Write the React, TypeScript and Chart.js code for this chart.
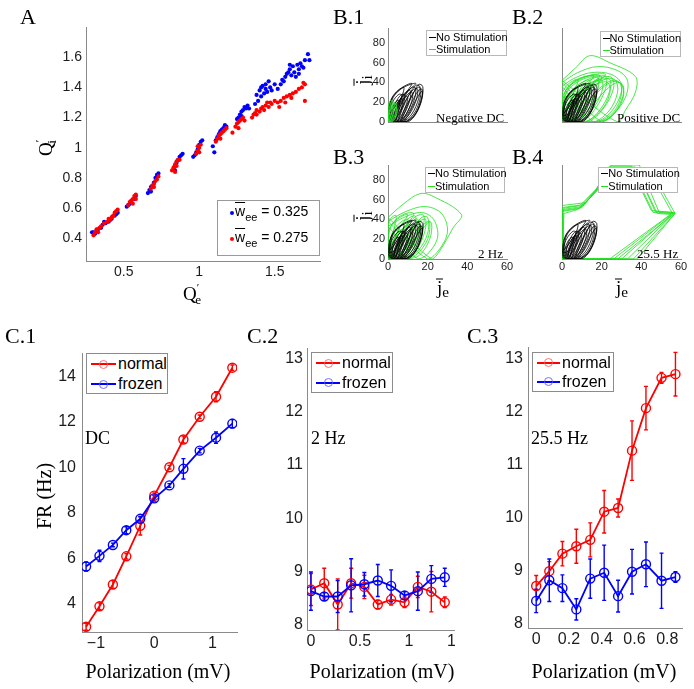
import React, { useEffect, useRef } from "react";
import { Chart, registerables } from "chart.js";

Chart.register(...registerables);

const SANS = '"Liberation Sans", Arial, Helvetica, sans-serif';
const SERIF = '"Liberation Serif", "Times New Roman", serif';
const AXIS_COLOR = "#8a8a8a";
const TICK_COLOR = "#1c1c1c";
const RED = "#ff0000";
const BLUE = "#0000ff";
const GREEN = "#1ee01e";
const BLACK = "#000000";

// ---------------- Panel A ----------------
const aTicksX = [0.5, 1, 1.5];
const aTicksY = [0.4, 0.6, 0.8, 1, 1.2, 1.4, 1.6];
const aLegend = ["0.325", "0.275"];
const aBlue: number[][] = [
  [0.30, 0.44], [0.31, 0.43], [0.32, 0.45], [0.33, 0.46], [0.35, 0.47], [0.36, 0.49], [0.38, 0.50], [0.40, 0.51], [0.42, 0.53], [0.44, 0.55], [0.45, 0.56], [0.46, 0.57], [0.29, 0.44], [0.37, 0.51],
  [0.52, 0.61], [0.53, 0.62], [0.54, 0.63], [0.55, 0.64], [0.57, 0.66], [0.58, 0.68],
  [0.66, 0.70], [0.67, 0.72], [0.68, 0.74], [0.69, 0.75], [0.70, 0.77], [0.71, 0.80], [0.72, 0.82], [0.73, 0.83], [0.68, 0.71],
  [0.83, 0.86], [0.84, 0.88], [0.85, 0.90], [0.86, 0.92], [0.87, 0.94], [0.88, 0.95], [0.89, 0.96], [0.84, 0.85],
  [0.96, 0.94], [0.97, 0.95], [0.98, 0.97], [0.99, 0.99], [1.00, 1.02], [1.01, 1.04], [1.02, 1.05],
  [1.09, 1.01], [1.10, 0.97],
  [1.11, 1.05], [1.12, 1.07], [1.13, 1.09], [1.14, 1.11], [1.15, 1.12], [1.16, 1.13], [1.17, 1.15], [1.18, 1.14],
  [1.25, 1.19], [1.26, 1.20], [1.27, 1.22], [1.28, 1.24], [1.29, 1.25], [1.30, 1.27], [1.31, 1.26], [1.32, 1.28], [1.33, 1.26], [1.28, 1.21],
  [1.37, 1.29], [1.38, 1.35], [1.39, 1.31], [1.40, 1.38], [1.41, 1.34], [1.42, 1.41], [1.43, 1.36], [1.44, 1.39], [1.45, 1.37], [1.46, 1.44], [1.47, 1.40], [1.48, 1.38], [1.50, 1.42], [1.41, 1.40], [1.44, 1.42],
  [1.52, 1.39], [1.54, 1.42], [1.55, 1.45], [1.56, 1.44], [1.57, 1.47], [1.58, 1.49], [1.59, 1.50], [1.60, 1.52], [1.61, 1.48], [1.62, 1.54], [1.63, 1.50], [1.64, 1.47], [1.65, 1.55], [1.66, 1.52], [1.67, 1.56], [1.68, 1.54], [1.69, 1.53], [1.70, 1.58], [1.72, 1.62], [1.73, 1.58], [1.60, 1.55], [1.66, 1.49],
];
const aRed: number[][] = [
  [0.30, 0.42], [0.31, 0.44], [0.32, 0.46], [0.34, 0.47], [0.35, 0.48], [0.37, 0.50], [0.39, 0.51], [0.41, 0.52], [0.42, 0.54], [0.43, 0.55], [0.44, 0.57], [0.45, 0.58], [0.46, 0.59], [0.33, 0.44], [0.40, 0.53],
  [0.53, 0.62], [0.54, 0.64], [0.55, 0.65], [0.56, 0.66], [0.57, 0.68], [0.58, 0.69], [0.56, 0.63], [0.58, 0.66],
  [0.68, 0.73], [0.69, 0.75], [0.70, 0.76], [0.71, 0.78], [0.72, 0.79], [0.73, 0.81], [0.70, 0.74],
  [0.82, 0.85], [0.83, 0.87], [0.84, 0.89], [0.85, 0.91], [0.86, 0.92], [0.87, 0.92], [0.84, 0.84], [0.85, 0.88],
  [0.98, 0.96], [0.99, 0.98], [1.00, 1.00], [1.00, 0.97], [1.01, 1.02], [0.99, 1.01],
  [1.11, 1.04], [1.12, 1.06], [1.13, 1.08], [1.14, 1.09], [1.15, 1.10], [1.16, 1.11], [1.17, 1.12], [1.18, 1.13], [1.14, 1.06], [1.22, 1.10],
  [1.24, 1.14], [1.25, 1.16], [1.26, 1.17], [1.27, 1.18], [1.28, 1.19], [1.29, 1.20], [1.26, 1.13], [1.30, 1.18],
  [1.35, 1.20], [1.36, 1.22], [1.37, 1.23], [1.38, 1.22], [1.40, 1.24], [1.41, 1.26], [1.42, 1.27], [1.44, 1.28], [1.45, 1.30], [1.47, 1.30], [1.48, 1.29], [1.50, 1.31], [1.38, 1.25], [1.43, 1.25], [1.46, 1.27],
  [1.52, 1.30], [1.54, 1.31], [1.56, 1.33], [1.58, 1.34], [1.60, 1.35], [1.62, 1.36], [1.64, 1.37], [1.66, 1.39], [1.68, 1.40], [1.70, 1.42], [1.69, 1.43], [1.53, 1.27], [1.57, 1.30], [1.61, 1.33], [1.70, 1.31],
];

// ---------------- Panels B ----------------
const bTicksY = [0, 20, 40, 60, 80];
const bTicksX = [0, 20, 40, 60];
const bNoStim: number[][][] = [
  [[1, 2], [1.5, 10], [3, 18], [5, 22], [6, 20], [5, 12], [3, 4], [2, 1]],
  [[2, 1], [2.5, 12], [4.5, 22], [7, 28], [8.5, 27], [7.5, 17], [5, 6], [3, 0.5]],
  [[3, 0.5], [4, 12], [6.5, 24], [10, 32], [11.5, 31], [10.5, 19], [7.5, 6], [4.5, 0]],
  [[4, 0], [5.5, 12], [8.5, 26], [12, 35], [14, 34], [13, 21], [9.5, 7], [6, 0]],
  [[5, 0], [7, 12], [10.5, 27], [14, 37], [16, 36], [15.5, 24], [12, 8], [7.5, 0]],
  [[6.5, 0], [9, 13], [12.5, 28], [15.5, 38], [17.5, 36], [17, 25], [14, 9], [9.5, 0.5]],
  [[0.5, 3], [0.5, 14], [2, 24], [5, 31], [8, 35], [7, 26], [4, 14], [2, 4]],
  [[0.5, 6], [1, 19], [3.5, 29], [8, 36], [12, 39], [10, 32], [6, 20], [3, 8]],
  [[8, 0], [11, 10], [14, 22], [17, 31], [17.5, 28], [16, 16], [13, 5], [10, 0]],
  [[2.5, 0], [3.5, 8], [6, 18], [9, 26], [10, 24], [8.5, 14], [6, 4], [4, 0]],
  [[1.5, 1], [2, 9], [4, 17], [6.5, 24], [7.5, 22], [6.5, 13], [4, 4], [2.5, 0]],
  [[3.5, 0], [5, 10], [7.5, 21], [11, 30], [12.5, 29], [11.5, 18], [8.5, 6], [5, 0]],
  [[4.5, 0], [6.5, 11], [9.5, 24], [13, 33], [15, 33], [14, 21], [10.5, 7], [6.5, 0]],
  [[6, 0], [8, 11], [11.5, 25], [15, 35], [16.5, 34], [16, 22], [13, 8], [8.5, 0]],
  [[0.5, 1], [0.8, 12], [2.5, 21], [5.5, 28], [7, 27], [5.5, 17], [3, 6], [1.5, 1]],
  [[7, 0], [10, 11], [13, 24], [16, 33], [17.5, 32], [16.5, 20], [13.5, 7], [9, 0]],
  [[1, 9], [2, 22], [5, 31], [10, 37], [14, 39], [11, 33], [7, 25], [3, 14]],
];
const bNegDC: number[][][] = [
  [[0, 1], [0.3, 10], [1, 17], [2, 21], [3, 20], [3, 12], [2, 4], [1, 0]],
  [[0.2, 0], [0.8, 9], [2, 16], [3.5, 19], [4.3, 16], [3.8, 8], [2.5, 2], [1.2, 0]],
  [[0, 3], [0, 13], [0.6, 20], [1.5, 22], [2.2, 18], [1.8, 10], [1, 3]],
  [[0.5, 0], [1.5, 7], [3, 13], [4.5, 14], [4.5, 9], [3.5, 3], [2, 0]],
  [[0, 0], [0.2, 6], [1, 12], [2.2, 15], [2.8, 11], [2, 5], [1, 1]],
  [[0.3, 2], [1, 14], [2.5, 19], [4, 18], [4, 11], [2.8, 4], [1.5, 1]],
];
const bPosDC: number[][][] = [
  [[0, 42], [7, 55], [14, 67], [24, 60], [37, 46], [37, 30], [32, 12], [28, 0]],
  [[0, 40], [8, 50], [18, 56], [28, 52], [33, 42], [32, 25], [26, 8], [20, 0]],
  [[0, 36], [6, 44], [15, 50], [25, 48], [30, 38], [28, 20], [22, 5], [16, 0]],
  [[0, 3], [2, 20], [5, 32], [10, 40], [14, 42], [14, 30], [10, 12], [5, 1]],
  [[1, 2], [4, 22], [8, 36], [14, 44], [18, 45], [18, 32], [13, 12], [7, 0]],
  [[2, 1], [6, 22], [11, 38], [17, 45], [22, 46], [22, 34], [17, 14], [10, 0]],
  [[3, 0], [8, 22], [14, 38], [20, 45], [25, 45], [26, 34], [21, 14], [13, 0]],
  [[4, 0], [10, 20], [16, 36], [23, 44], [27, 42], [28, 30], [24, 12], [16, 0]],
  [[0, 6], [1, 24], [4, 36], [9, 44], [16, 47], [12, 36], [6, 18], [2, 4]],
  [[0, 10], [0, 28], [3, 38], [8, 43], [6, 30], [3, 15], [1, 8]],
  [[5, 0], [12, 18], [19, 34], [25, 42], [29, 40], [30, 28], [26, 10], [18, 0]],
  [[0, 2], [3, 16], [8, 30], [15, 40], [20, 42], [20, 30], [15, 12], [8, 0]],
  [[1, 0], [5, 14], [10, 28], [17, 38], [23, 40], [24, 28], [19, 10], [11, 0]],
  [[0, 20], [2, 32], [6, 41], [12, 46], [19, 47], [15, 38], [8, 26], [3, 18]],
  [[0, 0], [1, 14], [4, 27], [9, 36], [13, 37], [12, 25], [8, 10], [3, 0]],
  [[2, 0], [7, 18], [12, 33], [18, 42], [24, 43], [24, 31], [19, 12], [12, 0]],
  [[6, 0], [13, 18], [20, 34], [26, 41], [30, 38], [31, 26], [27, 10], [20, 0]],
  [[0, 14], [2, 28], [6, 38], [13, 45], [20, 46], [17, 36], [10, 24], [4, 14]],
  [[0, 25], [3, 35], [9, 43], [16, 48], [22, 48], [17, 40], [10, 32], [4, 26]],
  [[8, 0], [15, 16], [22, 32], [28, 40], [31, 36], [30, 22], [25, 6], [18, 0]],
];
const b2Hz: number[][][] = [
  [[0, 42], [8, 56], [16, 66], [22, 64], [37, 45], [33, 32], [26, 8], [22, 0]],
  [[0, 38], [9, 48], [19, 53], [27, 46], [30, 28], [26, 10], [20, 0]],
  [[0, 33], [8, 42], [17, 47], [23, 40], [25, 22], [20, 5], [15, 0]],
  [[0, 2], [1, 18], [3, 30], [7, 38], [10, 40], [9, 28], [5, 10], [2, 0]],
  [[1, 1], [3, 18], [6, 32], [11, 42], [14, 43], [13, 28], [8, 8], [4, 0]],
  [[2, 0], [5, 16], [9, 32], [14, 43], [18, 44], [17, 28], [12, 8], [6, 0]],
  [[3, 0], [7, 14], [12, 30], [17, 42], [20, 42], [20, 26], [15, 8], [8, 0]],
  [[0, 5], [0, 25], [2, 35], [6, 42], [10, 45], [6, 32], [2, 15]],
  [[4, 0], [9, 10], [14, 22], [19, 34], [21, 38], [20, 20], [14, 4], [8, 0]],
  [[0, 8], [0, 30], [1, 40], [4, 44], [3, 30], [1, 15]],
  [[0, 0], [2, 12], [5, 24], [9, 33], [12, 34], [11, 22], [7, 8], [3, 0]],
  [[1, 0], [4, 10], [8, 22], [13, 35], [16, 38], [15, 24], [10, 6], [5, 0]],
  [[0, 3], [2, 16], [6, 28], [11, 37], [15, 40], [15, 26], [10, 8], [4, 0]],
  [[5, 0], [10, 14], [15, 28], [20, 38], [22, 36], [21, 20], [16, 4], [10, 0]],
  [[0, 15], [1, 30], [4, 40], [9, 46], [13, 46], [10, 36], [5, 24], [1, 14]],
  [[2, 0], [6, 12], [11, 26], [16, 38], [19, 40], [18, 24], [13, 6], [6, 0]],
];
const b25Hz: number[][][] = [
  [[0, 0], [0, 48], [9, 51], [18, 70], [24, 92], [36, 92], [41, 68], [46, 47], [56, 46], [30, 0], [0, 0]],
  [[0.5, 0], [0.5, 50], [10, 53], [19, 72], [25, 93], [37, 93], [42, 70], [47, 48], [57, 47], [33, 0], [0.5, 0]],
  [[1, 0], [0, 52], [11, 55], [17, 69], [23, 90], [38, 90], [43, 67], [48, 46], [55, 45], [26, 0], [1, 0]],
  [[0, 0], [1, 46], [8, 50], [18, 72], [24, 94], [35, 94], [40, 70], [45, 49], [56, 47], [24, 0], [0, 0]],
  [[0.5, 0], [0, 54], [12, 57], [19, 74], [25, 95], [39, 95], [44, 71], [49, 47], [57, 46], [36, 0], [0.5, 0]],
  [[0, 0], [0.5, 49], [10, 52], [18, 71], [24, 91], [44, 91], [49, 70], [56, 45], [28, 0], [0, 0]],
  [[0, 0], [0, 51], [9, 54], [17, 70], [24, 92], [46, 92], [50, 71], [57, 46], [38, 0], [0, 0]],
];

// ---------------- Panels C ----------------
const cLegend = ["normal", "frozen"];
const c1Ticks = [-1, 0, 1];
const c1TicksY = [4, 6, 8, 10, 12, 14];
const c1X = [-1.17, -0.94, -0.71, -0.48, -0.24, 0, 0.26, 0.5, 0.78, 1.06, 1.34];
const c1Normal = [2.98, 3.88, 4.84, 6.08, 7.42, 8.75, 10.0, 11.22, 12.22, 13.1, 14.38];
const c1NormalErr = [0.15, 0.15, 0.17, 0.12, 0.4, 0.12, 0.08, 0.15, 0.08, 0.22, 0.12];
const c1Frozen = [5.63, 6.1, 6.58, 7.23, 7.73, 8.63, 9.2, 9.93, 10.73, 11.3, 11.92];
const c1FrozenErr = [0.2, 0.25, 0.08, 0.15, 0.1, 0.12, 0.08, 0.45, 0.1, 0.25, 0.18];

const c2Ticks = [0, 0.5, 1, 1.5];
const c2TicksY = [8, 9, 10, 11, 12, 13];
const c2X = [0, 0.136, 0.273, 0.41, 0.545, 0.682, 0.818, 0.955, 1.09, 1.228, 1.365];
const c2Normal = [8.66, 8.78, 8.38, 8.78, 8.71, 8.38, 8.47, 8.42, 8.71, 8.62, 8.42];
const c2NormalErr = [0.3, 0.28, 0.48, 0.28, 0.22, 0.08, 0.1, 0.1, 0.2, 0.38, 0.1];
const c2Frozen = [8.63, 8.53, 8.53, 8.74, 8.76, 8.83, 8.73, 8.55, 8.63, 8.86, 8.89];
const c2FrozenErr = [0.36, 0.07, 0.3, 0.5, 0.22, 0.3, 0.3, 0.07, 0.36, 0.25, 0.17];

const c3Ticks = [0, 0.2, 0.4, 0.6, 0.8];
const c3TicksY = [8, 9, 10, 11, 12, 13];
const c3X = [0, 0.08, 0.16, 0.245, 0.33, 0.415, 0.5, 0.585, 0.67, 0.765, 0.85];
const c3Normal = [8.71, 8.99, 9.32, 9.46, 9.58, 10.11, 10.18, 11.26, 12.06, 12.63, 12.7];
const c3NormalErr = [0.2, 0.18, 0.23, 0.32, 0.32, 0.4, 0.17, 0.56, 0.41, 0.1, 0.41];
const c3Frozen = [8.43, 8.82, 8.67, 8.27, 8.85, 8.96, 8.52, 8.98, 9.12, 8.81, 8.88];
const c3FrozenErr = [0.22, 0.4, 0.25, 0.2, 0.37, 0.52, 0.3, 0.42, 0.42, 0.52, 0.1];

// ---------------- helpers ----------------
function fmtTick(v: number) {
  const r = Math.round(v * 1000) / 1000;
  return r < 0 ? "\u2212" + String(-r) : String(r);
}

function axis(min: number, max: number, ticks: number[] | null, size: number, padding: number, fit: (s: any) => void) {
  const a: any = {
    type: "linear",
    min,
    max,
    grid: { display: false, drawTicks: false },
    border: { display: true, color: AXIS_COLOR, width: 1 },
    ticks: ticks
      ? { display: true, autoSkip: false, maxRotation: 0, color: TICK_COLOR, padding, font: { family: SANS, size }, callback: (v: number) => fmtTick(v) }
      : { display: false },
    afterFit: fit,
  };
  if (ticks) a.afterBuildTicks = (s: any) => { s.ticks = ticks.map((value) => ({ value })); };
  return a;
}

const baseOptions = () => ({
  animation: false,
  responsive: false,
  maintainAspectRatio: false,
  events: [],
  plugins: { legend: { display: false }, tooltip: { enabled: false } },
});

const errorBars = {
  id: "errorBars",
  beforeDatasetsDraw(chart: any) {
    const { ctx, chartArea, scales } = chart;
    ctx.save();
    ctx.beginPath();
    ctx.rect(chartArea.left, chartArea.top, chartArea.right - chartArea.left, chartArea.bottom - chartArea.top);
    ctx.clip();
    chart.data.datasets.forEach((ds: any, i: number) => {
      if (!ds.errors) return;
      const meta = chart.getDatasetMeta(i);
      ctx.strokeStyle = ds.borderColor;
      ctx.lineWidth = 1.4;
      meta.data.forEach((pt: any, j: number) => {
        const v = ds.data[j].y;
        const e = ds.errors[j];
        const x = pt.x;
        const yLo = scales.y.getPixelForValue(v - e);
        const yHi = scales.y.getPixelForValue(v + e);
        ctx.beginPath();
        ctx.moveTo(x, yLo);
        ctx.lineTo(x, yHi);
        ctx.moveTo(x - 2, yLo);
        ctx.lineTo(x + 2, yLo);
        ctx.moveTo(x - 2, yHi);
        ctx.lineTo(x + 2, yHi);
        ctx.stroke();
      });
    });
    ctx.restore();
  },
};

function loopSets(list: number[][][], color: string, width: number, tension: number, order: number, close: boolean) {
  return list.map((pts) => {
    const all = close ? [...pts, pts[0]] : pts;
    return {
      data: all.map(([x, y]) => ({ x, y })),
      borderColor: color,
      borderWidth: width,
      pointRadius: 0,
      tension,
      fill: false,
      order,
    };
  });
}

function seriesSet(label: string, xs: number[], ys: number[], errs: number[], color: string, order: number) {
  return {
    label,
    data: xs.map((x, i) => ({ x, y: ys[i] })),
    errors: errs,
    borderColor: color,
    backgroundColor: color,
    borderWidth: 1.8,
    pointRadius: 4.5,
    pointBorderWidth: 1.4,
    pointBorderColor: color,
    pointBackgroundColor: "rgba(0,0,0,0)",
    tension: 0,
    fill: false,
    order,
  };
}

type Pad = { l: number; t: number; r: number; b: number };
type PanelProps = { box: number[]; yw: number; xh: number; pad: Pad; build: (yw: number, xh: number) => any; bg?: string };

function ChartPanel({ box, yw, xh, pad, build, bg }: PanelProps) {
  const ref = useRef<HTMLCanvasElement | null>(null);
  const [L, T, R, B] = box;
  const left = L - pad.l - yw;
  const top = T - pad.t;
  const width = R - left + pad.r;
  const height = B - top + xh + pad.b;
  useEffect(() => {
    if (!ref.current) return;
    const cfg = build(yw, xh);
    cfg.options.layout = { padding: { left: pad.l, top: pad.t, right: pad.r, bottom: pad.b } };
    const chart = new Chart(ref.current, cfg);
    return () => chart.destroy();
  }, []);
  return (
    <canvas
      ref={ref}
      width={width}
      height={height}
      style={{ position: "absolute", left, top, width, height, background: bg || "transparent" }}
    />
  );
}

// ---------------- chart builders ----------------
const buildA = (yw: number, xh: number) => ({
  type: "scatter",
  data: {
    datasets: [
      { label: "w_ee = 0.325", data: aBlue.map(([x, y]) => ({ x, y })), pointRadius: 2.1, pointBorderWidth: 0, pointBackgroundColor: BLUE, borderColor: BLUE, order: 2 },
      { label: "w_ee = 0.275", data: aRed.map(([x, y]) => ({ x, y })), pointRadius: 2.1, pointBorderWidth: 0, pointBackgroundColor: RED, borderColor: RED, order: 1 },
    ],
  },
  options: {
    ...baseOptions(),
    scales: {
      x: axis(0.25, 1.8, aTicksX, 14, 3, (s: any) => { s.height = xh; }),
      y: axis(0.25, 1.8, aTicksY, 14, 4, (s: any) => { s.width = yw; }),
    },
  },
});

function buildB(green: number[][][], greenTension: number, greenOnTop: boolean, showY: boolean, showX: boolean) {
  return (yw: number, xh: number) => ({
    type: "line",
    data: {
      datasets: [
        ...loopSets(bNoStim, BLACK, 0.8, 0.35, greenOnTop ? 2 : 0, true),
        ...loopSets(green, GREEN, 0.8, greenTension, 1, greenTension > 0),
      ],
    },
    options: {
      ...baseOptions(),
      scales: {
        x: axis(0, 60, showX ? bTicksX : null, 11, 1, (s: any) => { s.height = xh; }),
        y: axis(0, 95, showY ? bTicksY : null, 11, 3, (s: any) => { s.width = yw; }),
      },
    },
  });
}

function buildC(xs: number[], n: number[], ne: number[], f: number[], fe: number[], xr: number[], xt: number[], yr: number[], yt: number[], yPad: number) {
  return (yw: number, xh: number) => ({
    type: "line",
    data: {
      datasets: [
        seriesSet(cLegend[0], xs, n, ne, RED, 1),
        seriesSet(cLegend[1], xs, f, fe, BLUE, 0),
      ],
    },
    options: {
      ...baseOptions(),
      scales: {
        x: axis(xr[0], xr[1], xt, 16, 2, (s: any) => { s.height = xh; }),
        y: axis(yr[0], yr[1], yt, 16, yPad, (s: any) => { s.width = yw; }),
      },
    },
    plugins: [errorBars],
  });
}

// ---------------- overlays ----------------
type TxtProps = { x: number; y: number; size: number; serif?: boolean; center?: boolean; rotate?: boolean; children: any };
function Txt({ x, y, size, serif = true, center = false, rotate = false, children }: TxtProps) {
  const style: any = {
    position: "absolute",
    left: x,
    top: y,
    fontSize: size,
    lineHeight: 1,
    fontFamily: serif ? SERIF : SANS,
    whiteSpace: "nowrap",
    color: "#000",
  };
  if (center || rotate) style.transform = `translate(-50%,-50%)${rotate ? " rotate(-90deg)" : ""}`;
  return <div style={style}>{children}</div>;
}

function PrimeSub({ base, sub }: { base: string; sub: string }) {
  return (
    <span>
      {base}
      <span style={{ fontSize: "0.6em", verticalAlign: "0.75em", lineHeight: 0 }}>′</span>
      <span style={{ fontSize: "0.7em", verticalAlign: "-0.3em", lineHeight: 0, marginLeft: "-0.3em" }}>{sub}</span>
    </span>
  );
}

function BarSub({ base, sub }: { base: string; sub: string }) {
  return (
    <span>
      <span style={{ position: "relative", display: "inline-block" }}>
        {base}
        <span style={{ position: "absolute", left: "-0.05em", right: "-0.05em", top: "0.06em", borderTop: "1px solid #000" }} />
      </span>
      <span style={{ position: "relative", top: 3, fontSize: "0.8em" }}>{sub}</span>
    </span>
  );
}

function BLegend({ x, y, w, h, rows }: { x: number; y: number; w: number; h: number; rows: number[] }) {
  const labels = ["No Stimulation", "Stimulation"];
  const colors = [BLACK, GREEN];
  return (
    <div style={{ position: "absolute", left: x, top: y, width: w, height: h, border: "1px solid #b8b8b8", background: "#fff", boxSizing: "border-box" }}>
      {rows.map((ry, i) => (
        <React.Fragment key={i}>
          <div style={{ position: "absolute", left: 2, top: ry - y - 1, width: 7, height: 1, background: colors[i] }} />
          <div style={{ position: "absolute", left: 9, top: ry - y - 7, fontSize: 11, lineHeight: "13px", fontFamily: SANS, color: "#000", whiteSpace: "nowrap" }}>{labels[i]}</div>
        </React.Fragment>
      ))}
    </div>
  );
}

function CLegend({ x, y, w, h, rows, lx, lw }: { x: number; y: number; w: number; h: number; rows: number[]; lx: number; lw: number }) {
  const colors = [RED, BLUE];
  const faint = ["rgba(255,90,90,0.85)", "rgba(90,90,255,0.85)"];
  return (
    <div style={{ position: "absolute", left: x, top: y, width: w, height: h, border: "1px solid #8c8c8c", background: "#fff", boxSizing: "border-box" }}>
      {rows.map((ry, i) => (
        <React.Fragment key={i}>
          <div style={{ position: "absolute", left: lx, top: ry - y - 2, width: lw, height: 2, background: colors[i] }} />
          <div style={{ position: "absolute", left: lx + lw / 2 - 4.5, top: ry - y - 5.5, width: 9, height: 9, borderRadius: "50%", border: `1px solid ${faint[i]}`, boxSizing: "border-box", background: "transparent" }} />
          <div style={{ position: "absolute", left: lx + lw + 2, top: ry - y - 10, fontSize: 16, lineHeight: "18px", fontFamily: SANS, color: "#000", whiteSpace: "nowrap" }}>{cLegend[i]}</div>
        </React.Fragment>
      ))}
    </div>
  );
}

export default function App() {
  return (
    <div style={{ position: "absolute", left: 0, top: 0, width: 694, height: 689, background: "#fff", overflow: "hidden" }}>
      {/* Panel A */}
      <ChartPanel box={[86, 27, 320, 261]} yw={50} xh={24} pad={{ l: 4, t: 14, r: 16, b: 2 }} build={buildA} />
      {/* Panels B */}
      <ChartPanel box={[388, 28, 507, 122]} yw={30} xh={0} pad={{ l: 2, t: 14, r: 6, b: 12 }} build={buildB(bNegDC, 0.35, true, true, false)} />
      <ChartPanel box={[562, 28, 681, 122]} yw={2} xh={0} pad={{ l: 2, t: 14, r: 6, b: 12 }} build={buildB(bPosDC, 0.35, false, false, false)} />
      <ChartPanel box={[388, 165, 507, 259]} yw={30} xh={16} pad={{ l: 2, t: 14, r: 12, b: 4 }} build={buildB(b2Hz, 0.35, false, true, true)} />
      <ChartPanel box={[562, 165, 681, 259]} yw={2} xh={16} pad={{ l: 6, t: 14, r: 12, b: 4 }} build={buildB(b25Hz, 0, false, false, true)} />
      {/* Panels C */}
      <ChartPanel box={[82, 352, 237, 632]} yw={50} xh={26} pad={{ l: 4, t: 14, r: 14, b: 4 }} build={buildC(c1X, c1Normal, c1NormalErr, c1Frozen, c1FrozenErr, [-1.24, 1.42], c1Ticks, [2.75, 15], c1TicksY, 6)} />
      <ChartPanel box={[307, 348, 458, 630]} yw={40} xh={26} pad={{ l: 4, t: 14, r: 14, b: 4 }} build={buildC(c2X, c2Normal, c2NormalErr, c2Frozen, c2FrozenErr, [-0.04, 1.5], c2Ticks, [7.9, 13.2], c2TicksY, 4)} />
      <ChartPanel box={[528, 347, 682, 628]} yw={73} xh={26} pad={{ l: 0, t: 14, r: 10, b: 4 }} bg="#fff" build={buildC(c3X, c3Normal, c3NormalErr, c3Frozen, c3FrozenErr, [-0.05, 0.89], c3Ticks, [7.92, 13.2], c3TicksY, 5)} />

      {/* Panel labels */}
      <Txt x={20} y={6} size={22}>A</Txt>
      <Txt x={333} y={6} size={22}>B.1</Txt>
      <Txt x={512} y={6} size={22}>B.2</Txt>
      <Txt x={333} y={146} size={22}>B.3</Txt>
      <Txt x={512} y={146} size={22}>B.4</Txt>
      <Txt x={5} y={325} size={22}>C.1</Txt>
      <Txt x={247} y={325} size={22}>C.2</Txt>
      <Txt x={467} y={325} size={22}>C.3</Txt>

      {/* Panel A titles & legend */}
      <Txt x={45} y={148} size={19} rotate><PrimeSub base="Q" sub="i" /></Txt>
      <Txt x={192} y={293} size={19} center><PrimeSub base="Q" sub="e" /></Txt>
      <div style={{ position: "absolute", left: 217, top: 200, width: 103, height: 56, border: "1px solid #999", background: "#fff", boxSizing: "border-box" }}>
        {[12.3, 37.7].map((ry, i) => (
          <React.Fragment key={i}>
            <div style={{ position: "absolute", left: 12, top: ry - 2, width: 4, height: 4, borderRadius: "50%", background: i === 0 ? BLUE : RED }} />
            <div style={{ position: "absolute", left: 17, top: ry - 10, fontSize: 14, lineHeight: "16px", fontFamily: SANS, whiteSpace: "nowrap" }}>
              <span style={{ textDecoration: "overline" }}>w</span>
              <span style={{ position: "relative", top: 5, fontSize: 11 }}>ee</span> = {aLegend[i]}
            </div>
          </React.Fragment>
        ))}
      </div>

      {/* Panel B titles, annotations, legends */}
      <Txt x={362} y={80} size={19} rotate><BarSub base="j" sub="i" /></Txt>
      <Txt x={362} y={216} size={19} rotate><BarSub base="j" sub="i" /></Txt>
      <Txt x={443} y={287} size={19} center><BarSub base="j" sub="e" /></Txt>
      <Txt x={622} y={287} size={19} center><BarSub base="j" sub="e" /></Txt>
      <Txt x={436} y={111} size={13}>Negative DC</Txt>
      <Txt x={617} y={111} size={13}>Positive DC</Txt>
      <Txt x={478} y={247} size={13}>2 Hz</Txt>
      <Txt x={637} y={247} size={13}>25.5 Hz</Txt>
      <BLegend x={426} y={29.5} w={81} h={26} rows={[36.7, 49.3]} />
      <BLegend x={599.5} y={30.5} w={81} h={26} rows={[37.7, 50.3]} />
      <BLegend x={425} y={166.7} w={80} h={26} rows={[173.3, 186]} />
      <BLegend x={598.3} y={166.7} w={80} h={26} rows={[173.3, 186]} />

      {/* Panel C titles, annotations, legends */}
      <Txt x={44} y={496} size={20} rotate>FR (Hz)</Txt>
      <Txt x={158} y={671} size={20} center>Polarization (mV)</Txt>
      <Txt x={382} y={671} size={20} center>Polarization (mV)</Txt>
      <Txt x={604} y={671} size={20} center>Polarization (mV)</Txt>
      <Txt x={85} y={428.5} size={18}>DC</Txt>
      <Txt x={311} y={428.5} size={18}>2 Hz</Txt>
      <Txt x={531} y={428.5} size={18}>25.5 Hz</Txt>
      <CLegend x={86} y={353} w={82} h={41} rows={[364.3, 384.3]} lx={4} lw={25} />
      <CLegend x={311} y={352} w={82} h={41} rows={[363.3, 382.7]} lx={4} lw={24} />
      <CLegend x={532} y={352} w={82} h={40} rows={[362.7, 381.7]} lx={4} lw={23} />
    </div>
  );
}
